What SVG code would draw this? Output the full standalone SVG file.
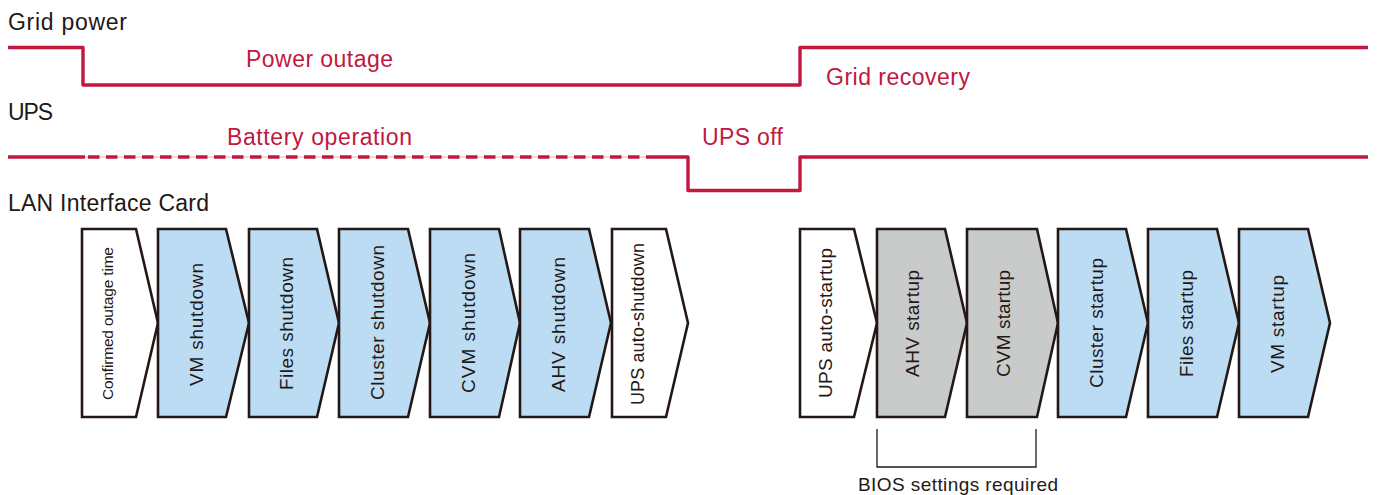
<svg xmlns="http://www.w3.org/2000/svg" width="1378" height="495" viewBox="0 0 1378 495">
<style>
.lbl{font-family:"Liberation Sans",Arial,sans-serif;font-size:23px;fill:#231815}
.red{font-family:"Liberation Sans",Arial,sans-serif;font-size:23px;fill:#c0183f}
.sig{fill:none;stroke:#c0183f;stroke-width:3.4;stroke-linejoin:round;stroke-linecap:butt}
.chev{stroke:#231815;stroke-width:2.6;stroke-linejoin:miter}
.w{fill:#ffffff}
.b{fill:#bcdcf4}
.g{fill:#c9caca}
.t{font-family:"Liberation Sans",Arial,sans-serif;font-size:19px;fill:#231815;text-anchor:middle}
</style>
<rect width="1378" height="495" fill="#ffffff"/>
<g id="labels">
<text class="lbl" x="8" y="30" textLength="119">Grid power</text>
<text class="lbl" x="8" y="120" textLength="45">UPS</text>
<text class="lbl" x="8" y="211" textLength="201">LAN Interface Card</text>
<text class="red" x="246" y="67" textLength="147">Power outage</text>
<text class="red" x="826" y="85" textLength="144">Grid recovery</text>
<text class="red" x="227" y="145" textLength="185">Battery operation</text>
<text class="red" x="702" y="145" textLength="81">UPS off</text>
</g>
<g id="connectors">
<polyline class="sig" points="8,47.5 83,47.5 83,85 800,85 800,47.5 1368,47.5"/>
<line x1="83" y1="157" x2="652" y2="157" stroke="#eab0bd" stroke-width="1"/>
<line x1="8" y1="157" x2="85" y2="157" class="sig"/>
<line x1="88" y1="157" x2="652" y2="157" class="sig" stroke-dasharray="11.5,6.5"/>
<polyline class="sig" points="652,157 688,157 688,190.5 800,190.5 800,157 1368,157"/>
<polyline fill="none" stroke="#231815" stroke-width="1.3" points="877,429 877,467 1036,467 1036,429"/>
</g>
<g id="n1"><polygon class="chev w" points="82,229 136,229 158,323 136,417 82,417"/><text class="t" style="font-size:15.5px" transform="translate(112.5,323.5) rotate(-90)" textLength="153">Confirmed outage time</text></g>
<g id="n2"><polygon class="chev b" points="158,229 226,229 249,323 226,417 158,417"/><text class="t" transform="translate(203,324.5) rotate(-90)" textLength="123">VM shutdown</text></g>
<g id="n3"><polygon class="chev b" points="249,229 317,229 339,323 317,417 249,417"/><text class="t" transform="translate(292.5,323.5) rotate(-90)" textLength="133">Files shutdown</text></g>
<g id="n4"><polygon class="chev b" points="339,229 408,229 430,323 408,417 339,417"/><text class="t" transform="translate(384,322.5) rotate(-90)" textLength="155">Cluster shutdown</text></g>
<g id="n5"><polygon class="chev b" points="430,229 499,229 520,323 499,417 430,417"/><text class="t" transform="translate(475,323) rotate(-90)" textLength="140">CVM shutdown</text></g>
<g id="n6"><polygon class="chev b" points="520,229 589,229 611,323 589,417 520,417"/><text class="t" transform="translate(565,324.5) rotate(-90)" textLength="135">AHV shutdown</text></g>
<g id="n7"><polygon class="chev w" points="612,229 666,229 688,323 666,417 612,417"/><text class="t" style="font-size:18px" transform="translate(644,324) rotate(-90)" textLength="162">UPS auto-shutdown</text></g>
<g id="n8"><polygon class="chev w" points="800,229 854,229 877,323 854,417 800,417"/><text class="t" transform="translate(832,323) rotate(-90)" textLength="150">UPS auto-startup</text></g>
<g id="n9"><polygon class="chev g" points="877,229 945,229 967,323 945,417 877,417"/><text class="t" transform="translate(919,323.5) rotate(-90)" textLength="107">AHV startup</text></g>
<g id="n10"><polygon class="chev g" points="967,229 1037,229 1058,323 1037,417 967,417"/><text class="t" transform="translate(1009.5,323.5) rotate(-90)" textLength="107">CVM startup</text></g>
<g id="n11"><polygon class="chev b" points="1058,229 1126,229 1148,323 1126,417 1058,417"/><text class="t" transform="translate(1102.5,323) rotate(-90)" textLength="130">Cluster startup</text></g>
<g id="n12"><polygon class="chev b" points="1148,229 1217,229 1239,323 1217,417 1148,417"/><text class="t" transform="translate(1193,323.5) rotate(-90)" textLength="107">Files startup</text></g>
<g id="n13"><polygon class="chev b" points="1239,229 1308,229 1330,323 1308,417 1239,417"/><text class="t" transform="translate(1284,324) rotate(-90)" textLength="98">VM startup</text></g>
<g id="bios"><text class="t" x="958" y="491" textLength="200">BIOS settings required</text></g>
</svg>
